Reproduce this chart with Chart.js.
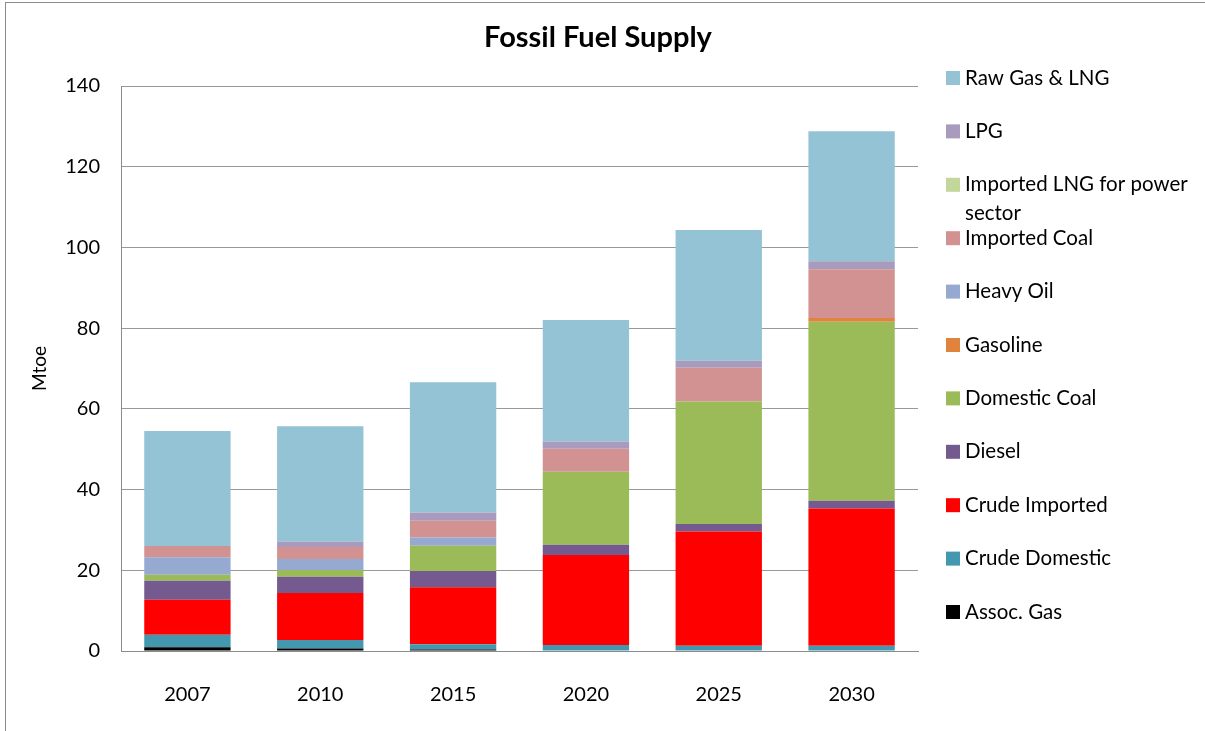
<!DOCTYPE html>
<html>
<head>
<meta charset="utf-8">
<script src="https://cdn.jsdelivr.net/npm/chart.js@4.4.0/dist/chart.umd.min.js"></script>
<style>
  html, body { margin: 0; padding: 0; background: #fff; }
  #wrap { position: relative; width: 1205px; height: 731px; overflow: hidden; }
  #frame { position: absolute; left: 5px; top: 2px; width: 1300px; height: 800px;
           border-left: 1px solid #8c8c8c; border-top: 1px solid #8c8c8c; }
  canvas { position: absolute; left: 0; top: 0; }
</style>
</head>
<body>
<div id="wrap"><div id="frame"></div><canvas id="chart" width="1205" height="731"></canvas></div>
<script>
/* Fossil fuel supply, stacked bars (Mtoe) */
const years = ['2007', '2010', '2015', '2020', '2025', '2030'];

const assocGas       = [0.9, 0.6, 0.4, 0.1, 0.1, 0.1];
const crudeDomestic  = [3.1, 2.1, 1.3, 1.4, 1.2, 1.2];
const crudeImported  = [8.7, 11.7, 14.1, 22.3, 28.3, 34.0];
const diesel         = [4.7, 4.0, 4.0, 2.5, 1.9, 1.9];
const domesticCoal   = [1.5, 1.7, 6.3, 18.1, 30.3, 44.4];
const gasoline       = [0, 0, 0, 0, 0, 0.9];
const heavyOil       = [4.3, 2.7, 2.0, 0, 0, 0];
const importedCoal   = [2.8, 3.0, 4.2, 5.7, 8.4, 12.1];
const importedLNG    = [0, 0, 0, 0, 0, 0];
const lpg            = [0, 1.3, 2.0, 1.8, 1.7, 2.0];
const rawGasLNG      = [28.5, 28.6, 32.3, 30.1, 32.4, 32.2];

const FONT = 'Lato, "Open Sans", sans-serif';

const series = [
  { label: 'Assoc. Gas', data: assocGas, color: '#000000' },
  { label: 'Crude Domestic', data: crudeDomestic, color: '#4398AF' },
  { label: 'Crude Imported', data: crudeImported, color: '#FF0000' },
  { label: 'Diesel', data: diesel, color: '#745A8F' },
  { label: 'Domestic Coal', data: domesticCoal, color: '#9BBB59' },
  { label: 'Gasoline', data: gasoline, color: '#E0833C' },
  { label: 'Heavy Oil', data: heavyOil, color: '#95A9D1' },
  { label: 'Imported Coal', data: importedCoal, color: '#D29291' },
  { label: 'Imported LNG for power sector', data: importedLNG, color: '#C3D69B' },
  { label: 'LPG', data: lpg, color: '#A99BBD' },
  { label: 'Raw Gas & LNG', data: rawGasLNG, color: '#93C3D4' }
];

function wrapText(c, text, maxW){
  const words = text.split(' ');
  const lines = [];
  let cur = '';
  words.forEach(w => {
    const test = cur ? cur + ' ' + w : w;
    if(c.measureText(test).width > maxW && cur){ lines.push(cur); cur = w; }
    else cur = test;
  });
  if(cur) lines.push(cur);
  return lines;
}

// legend on the right, top entry = last dataset
const sideLegend = {
  id: 'sideLegend',
  afterDraw(chart){
    const c = chart.ctx;
    const sets = chart.data.datasets.slice().reverse();
    c.save();
    c.font = '20.5px ' + FONT;
    c.textBaseline = 'middle';
    c.textAlign = 'left';
    sets.forEach((ds, i) => {
      const y = 78 + i * 53.4;
      c.fillStyle = ds.backgroundColor;
      c.fillRect(946, y - 7, 14, 14);
      c.fillStyle = '#000';
      wrapText(c, ds.label, 236).forEach((ln, j) => c.fillText(ln, 965, y + j * 29));
    });
    c.restore();
  }
};

const chartTitle = {
  id: 'chartTitle',
  afterDraw(chart){
    const c = chart.ctx;
    c.save();
    c.font = 'bold 29px ' + FONT;
    c.fillStyle = '#000';
    c.textAlign = 'center';
    c.textBaseline = 'middle';
    c.fillText('Fossil Fuel Supply', 598, 38);
    c.restore();
  }
};

new Chart(document.getElementById('chart'), {
  type: 'bar',
  data: {
    labels: years,
    datasets: series.map(s => ({
      label: s.label,
      data: s.data,
      backgroundColor: s.color,
      borderWidth: 0,
      categoryPercentage: 1,
      barPercentage: 0.65
    }))
  },
  options: {
    responsive: false,
    animation: false,
    devicePixelRatio: 1,
    layout: { padding: { top: 86, right: 287, left: 0, bottom: 0 } },
    plugins: { legend: { display: false }, title: { display: false }, tooltip: { enabled: false } },
    scales: {
      x: {
        stacked: true,
        grid: { display: false },
        border: { display: true, color: '#8c8c8c', width: 1 },
        ticks: { color: '#000', font: { family: FONT, size: 20 }, padding: 24 },
        afterFit: s => { s.height = 80; }
      },
      y: {
        stacked: true,
        min: 0, max: 140,
        ticks: { stepSize: 20, color: '#000', font: { family: FONT, size: 20 }, padding: 21 },
        grid: { color: '#999', drawTicks: false },
        border: { display: true, color: '#8c8c8c', width: 1 },
        title: { display: true, text: 'Mtoe', color: '#000', font: { family: FONT, size: 19 }, padding: { top: 28, bottom: 0 } },
        afterFit: s => { s.width = 121; }
      }
    }
  },
  plugins: [sideLegend, chartTitle]
});
</script>
</body>
</html>
